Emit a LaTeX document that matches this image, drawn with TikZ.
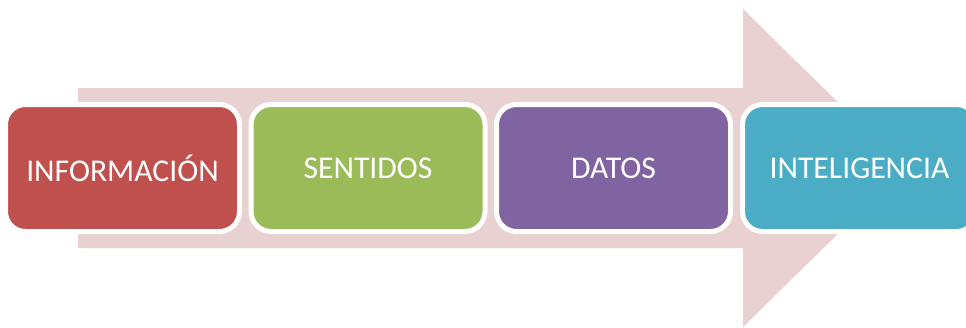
\documentclass[tikz,border=0pt]{standalone}
\usepackage{fontspec}
\setmainfont{Carlito}
\definecolor{cred}{HTML}{C0504D}
\definecolor{cgreen}{HTML}{9BBB59}
\definecolor{cpurple}{HTML}{8064A2}
\definecolor{cteal}{HTML}{4BACC6}
\definecolor{cpink}{HTML}{E9D1D1}
\tikzset{
  box/.style={draw=white, line width=5pt, rounded corners=20pt,
    minimum width=234pt, minimum height=127pt, inner sep=0pt,
    text=white, font=\fontsize{31.7pt}{38pt}\selectfont},
  bigarrow/.style={fill=cpink, draw=none}
}
\begin{document}
\begin{tikzpicture}[x=1pt,y=-1pt]
\useasboundingbox (0,0) rectangle (966,327);
\clip (0,0) rectangle (966,327);
\fill[white] (0,0) rectangle (966,327);
\path[bigarrow] (78,88) -- (743,88) -- (743,9) -- (905,168) -- (743,327) -- (743,248) -- (78,248) -- cycle;
\node[box, fill=cred] (a) at (122.5,168) {INFORMACIÓN};
\node[box, fill=cgreen] (b) at (368,168) {SENTIDOS};
\node[box, fill=cpurple] (c) at (613.5,168) {DATOS};
\node[box, fill=cteal] (d) at (859.5,168) {INTELIGENCIA};
\end{tikzpicture}
\end{document}
